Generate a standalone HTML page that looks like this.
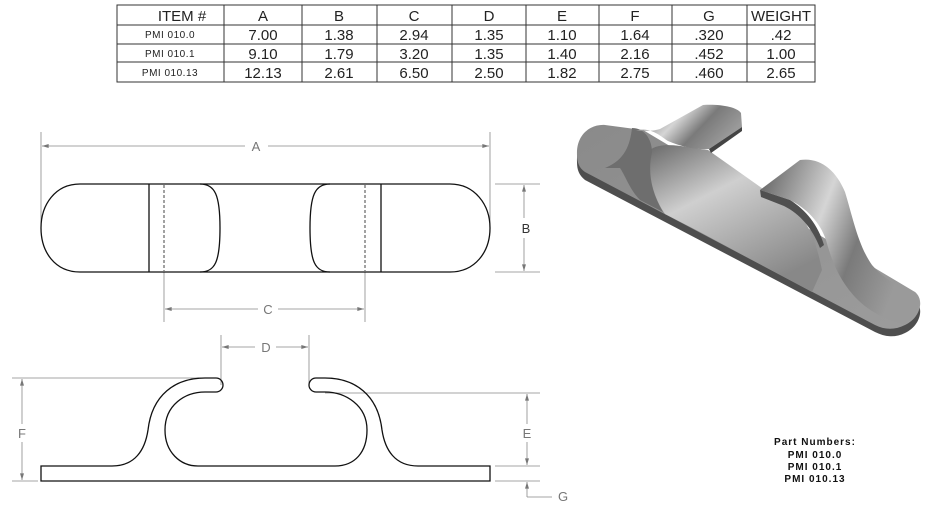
<!DOCTYPE html>
<html><head><meta charset="utf-8"><style>
html,body{margin:0;padding:0;background:#fff;}
svg{display:block;}
.t{font-family:"Liberation Sans",sans-serif;font-size:15px;fill:#222;text-anchor:middle;}
.s{font-family:"Liberation Sans",sans-serif;font-size:10px;fill:#222;text-anchor:middle;letter-spacing:0.5px;}
.d{font-family:"Liberation Sans",sans-serif;font-size:13px;fill:#777;text-anchor:middle;}
.p{font-family:"Liberation Sans",sans-serif;font-size:10px;font-weight:bold;fill:#111;text-anchor:middle;letter-spacing:1px;}
</style></head><body>
<svg width="933" height="507" viewBox="0 0 933 507" xmlns="http://www.w3.org/2000/svg">
<defs>
<marker id="ar" viewBox="0 0 10 6" refX="10" refY="3" markerWidth="10" markerHeight="5" orient="auto-start-reverse"><path d="M0,0 L10,3 L0,6z" fill="#777"/></marker>
<linearGradient id="g1" x1="0" y1="0" x2="1" y2="0.4"><stop offset="0" stop-color="#5a5a5a"/><stop offset="0.45" stop-color="#d5d5d5"/><stop offset="0.7" stop-color="#7a7a7a"/><stop offset="1" stop-color="#9a9a9a"/></linearGradient>
<linearGradient id="g2" x1="0" y1="0" x2="0.6" y2="1"><stop offset="0" stop-color="#6a6a6a"/><stop offset="0.4" stop-color="#cfcfcf"/><stop offset="1" stop-color="#888"/></linearGradient>
<linearGradient id="g3" x1="0" y1="0" x2="1" y2="1"><stop offset="0" stop-color="#8a8a8a"/><stop offset="1" stop-color="#9c9c9c"/></linearGradient>
</defs>
<!-- table -->
<g stroke="#333" stroke-width="1" fill="none">
<rect x="117" y="5" width="698" height="77"/>
<line x1="117" y1="25" x2="815" y2="25"/><line x1="117" y1="44" x2="815" y2="44"/><line x1="117" y1="62" x2="815" y2="62"/>
<line x1="224" y1="5" x2="224" y2="82"/><line x1="302" y1="5" x2="302" y2="82"/><line x1="377" y1="5" x2="377" y2="82"/><line x1="452" y1="5" x2="452" y2="82"/><line x1="526" y1="5" x2="526" y2="82"/><line x1="599" y1="5" x2="599" y2="82"/><line x1="672" y1="5" x2="672" y2="82"/><line x1="747" y1="5" x2="747" y2="82"/>
</g>
<g class="t">
<text x="182" y="21">ITEM #</text><text x="263" y="21">A</text><text x="339" y="21">B</text><text x="414" y="21">C</text><text x="489" y="21">D</text><text x="562" y="21">E</text><text x="635" y="21">F</text><text x="709" y="21">G</text><text x="781" y="21">WEIGHT</text>
<text x="263" y="40">7.00</text><text x="339" y="40">1.38</text><text x="414" y="40">2.94</text><text x="489" y="40">1.35</text><text x="562" y="40">1.10</text><text x="635" y="40">1.64</text><text x="709" y="40">.320</text><text x="781" y="40">.42</text>
<text x="263" y="59">9.10</text><text x="339" y="59">1.79</text><text x="414" y="59">3.20</text><text x="489" y="59">1.35</text><text x="562" y="59">1.40</text><text x="635" y="59">2.16</text><text x="709" y="59">.452</text><text x="781" y="59">1.00</text>
<text x="263" y="78">12.13</text><text x="339" y="78">2.61</text><text x="414" y="78">6.50</text><text x="489" y="78">2.50</text><text x="562" y="78">1.82</text><text x="635" y="78">2.75</text><text x="709" y="78">.460</text><text x="781" y="78">2.65</text>
</g>
<g class="s"><text x="170" y="38">PMI 010.0</text><text x="170" y="57">PMI 010.1</text><text x="170" y="76">PMI 010.13</text></g>

<!-- top view -->
<g stroke="#888" stroke-width="0.8" fill="none">
<line x1="41" y1="132" x2="41" y2="228"/><line x1="490" y1="132" x2="490" y2="228"/>
<line x1="42" y1="146" x2="245" y2="146" marker-start="url(#ar)"/><line x1="268" y1="146" x2="489" y2="146" marker-end="url(#ar)"/>
<line x1="495" y1="184" x2="540" y2="184"/><line x1="495" y1="272" x2="540" y2="272"/>
<line x1="524" y1="185" x2="524" y2="218" marker-start="url(#ar)"/><line x1="524" y1="238" x2="524" y2="271" marker-end="url(#ar)"/>
<line x1="164" y1="272" x2="164" y2="322"/><line x1="365" y1="272" x2="365" y2="322"/>
<line x1="165" y1="309" x2="258" y2="309" marker-start="url(#ar)"/><line x1="278" y1="309" x2="364" y2="309" marker-end="url(#ar)"/>
</g>
<g class="d"><text x="256" y="151">A</text><text x="526" y="233" fill="#333">B</text><text x="268" y="314">C</text></g>
<g stroke="#111" stroke-width="1.3" fill="none">
<path d="M80,184 L450,184 C475,184 490,205 490,228 C490,252 475,272 450,272 L80,272 C55,272 41,252 41,228 C41,205 55,184 80,184 Z"/>
<line x1="149" y1="184" x2="149" y2="272"/><line x1="381" y1="184" x2="381" y2="272"/>
<path d="M200,184 C215,184 220,195 220,228 C220,262 215,272 200,272"/>
<path d="M330,184 C315,184 310,195 310,228 C310,262 315,272 330,272"/>
</g>
<g stroke="#444" stroke-width="1" stroke-dasharray="3,2"><line x1="164" y1="185" x2="164" y2="271"/><line x1="365" y1="185" x2="365" y2="271"/></g>

<!-- side view -->
<g stroke="#888" stroke-width="0.8" fill="none">
<line x1="12" y1="378" x2="215" y2="378"/><line x1="12" y1="481" x2="38" y2="481"/>
<line x1="22" y1="379" x2="22" y2="424" marker-start="url(#ar)"/><line x1="22" y1="442" x2="22" y2="480" marker-end="url(#ar)"/>
<line x1="221" y1="335" x2="221" y2="385"/><line x1="309" y1="335" x2="309" y2="385"/>
<line x1="222" y1="347" x2="255" y2="347" marker-start="url(#ar)"/><line x1="276" y1="347" x2="308" y2="347" marker-end="url(#ar)"/>
<line x1="325" y1="393" x2="540" y2="393"/><line x1="495" y1="466" x2="540" y2="466"/><line x1="495" y1="481" x2="540" y2="481"/>
<line x1="527" y1="394" x2="527" y2="424" marker-start="url(#ar)"/><line x1="527" y1="442" x2="527" y2="465" marker-end="url(#ar)"/>
<line x1="527" y1="497" x2="527" y2="482" marker-end="url(#ar)"/><line x1="527" y1="497" x2="552" y2="497"/>
</g>
<g class="d"><text x="22" y="438">F</text><text x="266" y="352">D</text><text x="527" y="438">E</text><text x="563" y="501">G</text></g>
<path fill="none" stroke="#111" stroke-width="1.3" d="M41,466 L112,466 C135,466 145,450 148,430 C152,395 175,378 205,378 L216,378 A7,7 0 0 1 216,392 L205,392 C185,392 165,405 165,430 C165,452 180,466 198,466 L335,466 C355,466 367,452 367,430 C367,405 345,392 325,392 L316,392 A7,7 0 0 1 316,378 L325,378 C355,378 378,395 382,430 C385,450 395,466 418,466 L490,466 L490,481 L41,481 Z"/>

<!-- 3D view -->
<!-- plate edge -->
<path fill="#4e4e4e" d="M577,162 C576,142 590,131 605,132 L643,137 L915,300 C925,308 920,326 905,333 C895,338 885,337 875,332 L585,180 C579,175 577,170 577,162 Z"/>
<!-- plate top -->
<path fill="url(#g3)" d="M577,155 C576,135 590,124 605,125 L643,130 L915,292 C925,300 920,318 905,325 C895,330 885,330 875,325 L585,172 C579,168 577,162 577,155 Z"/>
<!-- channel floor / inner faces -->
<path fill="url(#g2)" d="M650,150 C662,140 690,148 708,150 L800,215 C812,230 818,250 822,270 L812,292 L700,232 L665,214 C652,195 647,170 650,150 Z"/>
<!-- left hook outer S -->
<path fill="#6e6e6e" d="M632,128 C645,128 652,140 652,152 C648,170 650,190 663,212 L640,200 C630,190 625,175 620,168 L605,168 C625,160 630,145 632,128 Z"/>
<!-- left hook tab -->
<path fill="url(#g1)" d="M636,131 C650,126 660,136 668,141 C682,147 697,150 709,149 L742,127 L741,113 C737,107 720,104 703,105 L660,129 C650,132 644,130 636,131 Z"/>
<path fill="#444" d="M709,149 L742,127 L742,131 L711,153 Z"/>
<!-- right hook -->
<path fill="url(#g1)" d="M760,190 L800,160 C820,157 836,170 845,192 C853,218 858,245 872,265 C885,280 900,288 915,292 C922,300 918,316 905,324 C890,322 870,312 858,300 C840,282 832,262 826,240 C820,222 806,208 790,200 Z"/>
<path fill="#505050" d="M760,190 L790,200 C806,210 818,225 824,245 L820,248 C812,228 800,214 784,206 L761,197 Z"/>

<!-- part numbers -->
<g class="p"><text x="815" y="445">Part Numbers:</text><text x="815" y="458">PMI 010.0</text><text x="815" y="470">PMI 010.1</text><text x="815" y="482">PMI 010.13</text></g>
</svg>
</body></html>
